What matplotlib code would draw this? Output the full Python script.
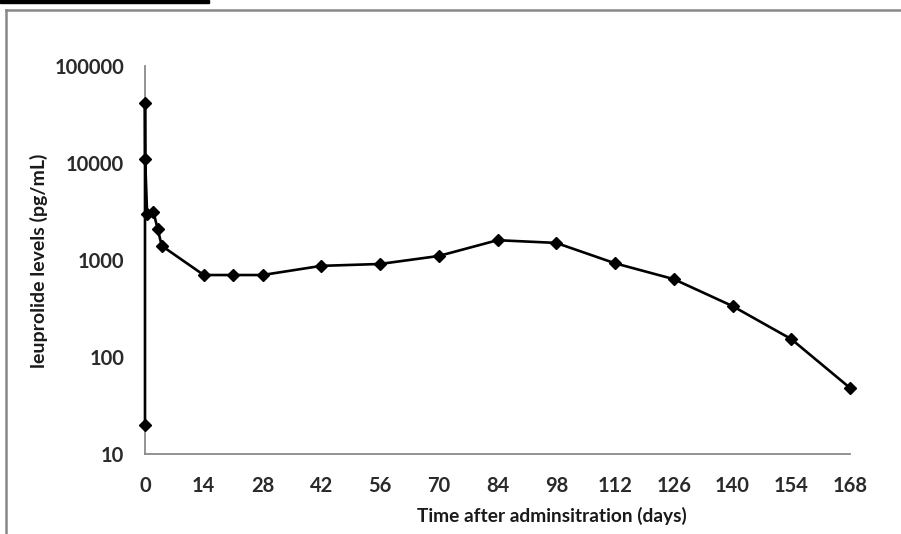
import matplotlib
matplotlib.use("Agg")
import matplotlib.pyplot as plt
from matplotlib.lines import Line2D
from matplotlib.patches import Rectangle
from matplotlib.ticker import FixedLocator, FixedFormatter, NullLocator

# data (days, pg/mL)
days = [0, 0, 0.04, 0.5, 2, 3, 4, 14, 21, 28, 42, 56, 70, 84, 98, 112, 126, 140, 154, 168]
levels = [20, 42000, 11000, 3000, 3150, 2100, 1400, 700, 700, 700, 870, 910, 1100,
          1600, 1500, 925, 635, 335, 153, 48]

x_ticks = list(range(0, 169, 14))
y_ticks = [10, 100, 1000, 10000, 100000]
y_tick_labels = ["10", "100", "1000", "10000", "100000"]

plt.rcParams["font.family"] = ["Lato", "DejaVu Sans"]
plt.rcParams["font.weight"] = "bold"

W, H = 901, 534
fig = plt.figure(figsize=(W / 100, H / 100), dpi=100)
ax = fig.add_axes([145 / W, 1 - 454 / H, (850 - 145) / W, (454 - 66) / H])

ax.plot(days, levels, color="black", lw=1.9, marker="D", ms=6.5, mfc="black", mec="black",
        clip_on=False, zorder=3)

ax.set_yscale("log")
ax.set_xlim(0, 168)
ax.set_ylim(10, 100000)
ax.xaxis.set_major_locator(FixedLocator(x_ticks))
ax.yaxis.set_major_locator(FixedLocator(y_ticks))
ax.yaxis.set_major_formatter(FixedFormatter(y_tick_labels))
ax.yaxis.set_minor_locator(NullLocator())
ax.tick_params(axis="both", length=0, labelsize=14.5, colors="#2a2a2a")
ax.tick_params(axis="x", pad=16)
ax.tick_params(axis="y", pad=15)

for s in ("top", "right"):
    ax.spines[s].set_visible(False)
for s in ("left", "bottom"):
    ax.spines[s].set_color("#8a8a8a")
    ax.spines[s].set_linewidth(1.3)

ax.set_xlabel("Time after adminsitration (days)", fontsize=13.8, fontweight="bold", color="#1a1a1a")
ax.xaxis.set_label_coords(552 / W, 1 - 507 / H, transform=fig.transFigure)
ax.set_ylabel("leuprolide levels (pg/mL)", fontsize=14, fontweight="bold", color="#1a1a1a")
ax.yaxis.set_label_coords(48 / W, 1 - 261 / H, transform=fig.transFigure)

# outer frame of the original figure and the cut-off bar above it
fig.add_artist(Line2D([6 / W, 1], [1 - 10 / H, 1 - 10 / H], color="#888888", lw=1.8, transform=fig.transFigure))
fig.add_artist(Line2D([6 / W, 6 / W], [0, 1 - 10 / H], color="#888888", lw=1.8, transform=fig.transFigure))
fig.add_artist(Rectangle((0, 1 - 2.5 / H), 209 / W, 2.5 / H, color="black", transform=fig.transFigure))

fig.savefig("out.png", dpi=100)
